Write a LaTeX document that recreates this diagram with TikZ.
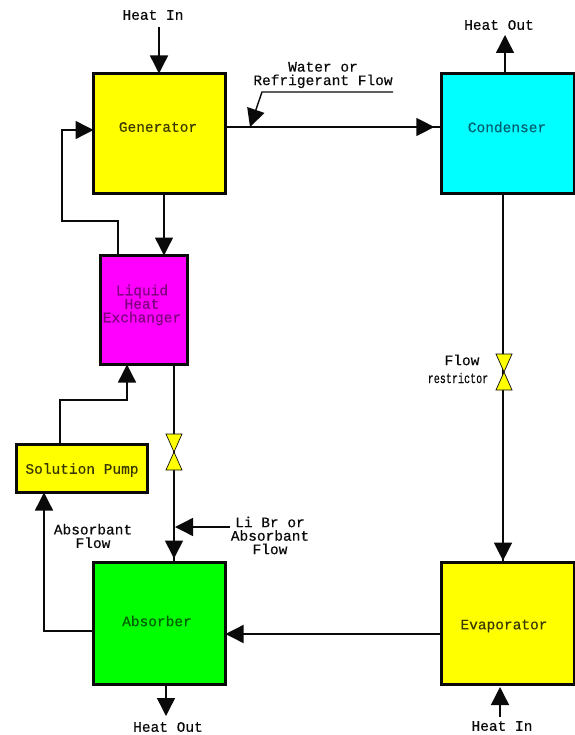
\documentclass[tikz,border=0pt]{standalone}
\usepackage{fontspec}
\setmonofont[FakeBold=0.4]{Liberation Mono}
\newfontfamily\narrowmono[FakeStretch=0.72,FakeBold=0.2]{Liberation Mono}
\usetikzlibrary{arrows.meta,decorations.markings}
\definecolor{oliveTxt}{HTML}{3A3A00}
\definecolor{purpleTxt}{HTML}{800080}
\definecolor{tealTxt}{HTML}{006070}
\definecolor{greenTxt}{HTML}{006000}
\definecolor{yel}{HTML}{FFFF00}
\definecolor{cya}{HTML}{00FFFF}
\definecolor{mag}{HTML}{FF00FF}
\definecolor{gre}{HTML}{00FF00}
\definecolor{ink}{HTML}{0A0A0A}
\tikzset{
  x=1pt,y=-1pt,
  lbl/.style={font=\fontsize{14.5}{13.5}\selectfont\ttfamily,align=center,inner sep=0pt,text=ink},
  unit/.style={draw=ink,line width=3pt,anchor=north west,inner sep=0pt,outer sep=0pt},
  flow/.style={draw=ink,line width=1.4pt},
  tip/.style={-{Triangle[length=18pt,width=18pt]}},
  midtip/.style={postaction={decorate},decoration={markings,mark=at position #1 with {\arrow{Triangle[length=18pt,width=18pt]}}}},
  valve/.style={draw=ink,line width=0.7pt,fill=yel},
}
\begin{document}
\begin{tikzpicture}
\useasboundingbox (0,0) rectangle (574,735);
\fill[white] (0,0) rectangle (574,735);
% units
\node[unit,fill=yel,minimum width=132pt,minimum height=120pt] (gen) at (93.5,73.5) {};
\node[unit,fill=cya,minimum width=133pt,minimum height=120pt] (con) at (441.5,73.5) {};
\node[unit,fill=mag,minimum width=87pt,minimum height=109pt] (lhe) at (100.5,255.5) {};
\node[unit,fill=yel,minimum width=131pt,minimum height=48pt] (pump) at (16.5,444.5) {};
\node[unit,fill=gre,minimum width=132pt,minimum height=122pt] (abs) at (93.5,562.5) {};
\node[unit,fill=yel,minimum width=133pt,minimum height=122pt] (eva) at (441.5,562.5) {};
% labels
\node[lbl,text=oliveTxt] (tgen) at (158,127) {Generator};
\node[lbl,text=tealTxt] (tcon) at (507,127) {Condenser};
\node[lbl,text=purpleTxt] (tlhe) at (142,305) {Liquid\\Heat\\Exchanger};
\node[lbl,text=oliveTxt] (tpump) at (82,470) {Solution Pump};
\node[lbl,text=greenTxt] (tabs) at (157,621) {Absorber};
\node[lbl,text=oliveTxt] (teva) at (504,626) {Evaporator};
\node[lbl] (hi1) at (153,15) {Heat In};
\node[lbl] (ho1) at (499,25) {Heat Out};
\node[lbl] (wat) at (323,75) {Water or\\Refrigerant Flow};
\node[lbl] (fl) at (462,360) {Flow};
\node[lbl,font=\fontsize{14}{14}\selectfont\narrowmono] (re) at (458,378) {restrictor};
\node[lbl] (lib) at (270,535.5) {Li Br or\\Absorbant\\Flow};
\node[lbl] (abf) at (93,536) {Absorbant\\Flow};
\node[lbl] (ho2) at (168,727) {Heat Out};
\node[lbl] (hi2) at (502,726) {Heat In};
% free ends
\coordinate (c1) at (159,27);
\coordinate (c2) at (505,35);
\coordinate (c3) at (393,92);
\coordinate (c4) at (262,92);
\coordinate (c5) at (250,127);
\coordinate (c6) at (62,221);
\coordinate (c7) at (62,130);
\coordinate (c8) at (118,221);
\coordinate (c9) at (60,400);
\coordinate (c10) at (127,400);
\coordinate (c11) at (230,527);
\coordinate (c12) at (175,527);
\coordinate (c13) at (44,631);
\coordinate (c14) at (166,716);
\coordinate (c15) at (500,717);
\coordinate (c16) at (500,687);
\coordinate (vb) at (174,452);
\coordinate (vc) at (504,372);
% connectors
\draw[flow,tip] (c1) -- (c1 |- gen.north);
\draw[flow,tip] (con.north -| c2) -- (c2);
\draw[flow,midtip=0.967] (gen.east |- 0,127) -- (con.west |- 0,127);
\draw[flow,tip] (c3) -- (c4) -- (c5);
\draw[flow,midtip=0.995] (con.south -| 503,0) -- (eva.north -| 503,0);
\draw[flow,tip] (gen.south -| 164,0) -- (lhe.north -| 164,0);
\draw[flow,tip] (c8 |- lhe.north) -- (c8) -- (c6) -- (c7) -- (gen.west |- c7);
\draw[flow,tip] (c9 |- pump.north) -- (c9) -- (c10) -- (c10 |- lhe.south);
\draw[flow,midtip=0.98] (lhe.south -| 174,0) -- (abs.north -| 174,0);
\draw[flow,tip] (c11) -- (c12);
\draw[flow,tip] (abs.west |- c13) -- (c13) -- (c13 |- pump.south);
\draw[flow,tip] (eva.west |- 0,634) -- (abs.east |- 0,634);
\draw[flow,tip] (c14 |- abs.south) -- (c14);
\draw[flow,tip] (c15) -- (c16);
% valves
\draw[valve] (vc) -- ++(-8,-18) -- ++(16,0) -- cycle;
\draw[valve] (vc) -- ++(-8,18) -- ++(16,0) -- cycle;
\draw[valve] (vb) -- ++(-8,-18) -- ++(16,0) -- cycle;
\draw[valve] (vb) -- ++(-8,18) -- ++(16,0) -- cycle;
\end{tikzpicture}
\end{document}
